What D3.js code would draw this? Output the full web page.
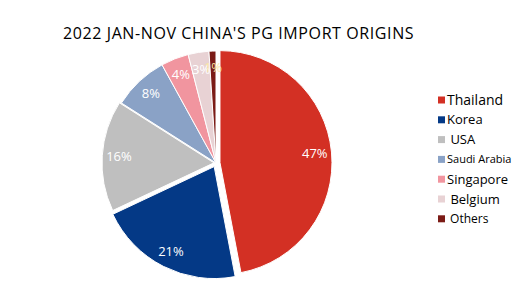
<!DOCTYPE html>
<html>
<head>
<meta charset="utf-8">
<script src="https://cdn.jsdelivr.net/npm/d3@7/dist/d3.min.js"></script>
<style>
  body { margin: 0; background: #fff; }
  svg { display: block; font-family: "Open Sans", "Noto Sans", sans-serif; }
</style>
</head>
<body>
<div class="chart"></div>
<script>
// data
var origins = ["Thailand", "Korea", "USA", "Saudi Arabia", "Singapore", "Belgium", "Others"];
var shares = [47, 21, 16, 8, 4, 3, 1];
var legendNames = ["Thailand", "Korea", " USA", "Saudi Arabia", "Singapore", " Belgium", " Others"];

// styles
var colors = ["#d33024", "#043986", "#bfbfbf", "#8aa2c6", "#f1959f", "#e8d2d4", "#7b1b16"];
var labelColors = ["#fff", "#fff", "#fff", "#fff", "#fff", "#fff", "#fbe8a8"];
var explode = [4, 4, 2, 0, 0, 0, 0];
var legendSize = [14, 13, 13, 11, 13, 13, 12];

var svgWidth = 522;
var svgHeight = 295;
var cx = 216, cy = 163, radius = 112;

var svg = d3.select(".chart")
    .append("svg")
    .attr("width", svgWidth)
    .attr("height", svgHeight);

// Title
svg.append("text")
    .attr("x", 63)
    .attr("y", 39)
    .style("font-size", "16px")
    .style("letter-spacing", "0.6px")
    .style("fill", "#000")
    .text("2022 JAN-NOV CHINA'S PG IMPORT ORIGINS");

var pie = d3.pie().sort(null).value(function(d) { return d; });
var arcs = pie(shares);

var arc = d3.arc().innerRadius(0).outerRadius(radius);
var labelArc = d3.arc().innerRadius(radius * 0.85).outerRadius(radius * 0.85);

var chart = svg.append("g")
    .attr("transform", "translate(" + cx + "," + cy + ")");

// push a slice outwards along its middle angle
function shift(d, i) {
    var a = (d.startAngle + d.endAngle) / 2;
    return "translate(" + (Math.sin(a) * explode[i]) + "," + (-Math.cos(a) * explode[i]) + ")";
}

chart.selectAll("path")
    .data(arcs)
    .enter()
    .append("path")
    .attr("d", arc)
    .attr("transform", shift)
    .attr("fill", function(d, i) { return colors[i]; })
    .attr("stroke", "#fff")
    .attr("stroke-width", 1);

chart.selectAll("text.pct")
    .data(arcs)
    .enter()
    .append("text")
    .attr("class", "pct")
    .attr("transform", function(d, i) {
        var c = labelArc.centroid(d);
        var a = (d.startAngle + d.endAngle) / 2;
        return "translate(" + (c[0] + Math.sin(a) * explode[i]) + "," + (c[1] - Math.cos(a) * explode[i]) + ")";
    })
    .attr("text-anchor", "middle")
    .attr("dy", "0.35em")
    .style("font-size", "13px")
    .style("fill", function(d, i) { return labelColors[i]; })
    .text(function(d) { return d.data + "%"; });

// Legend
var legend = svg.append("g")
    .attr("transform", "translate(438,100)");

var item = legend.selectAll("g")
    .data(origins)
    .enter()
    .append("g")
    .attr("transform", function(d, i) { return "translate(0," + (i * 19.8) + ")"; });

item.append("rect")
    .attr("x", 0)
    .attr("y", -3.5)
    .attr("width", 7)
    .attr("height", 7)
    .attr("fill", function(d, i) { return colors[i]; });

item.append("text")
    .attr("x", 9)
    .attr("dy", "0.35em")
    .style("font-size", function(d, i) { return legendSize[i] + "px"; })
    .style("fill", "#000")
    .style("white-space", "pre")
    .text(function(d, i) { return legendNames[i]; });
</script>
</body>
</html>
